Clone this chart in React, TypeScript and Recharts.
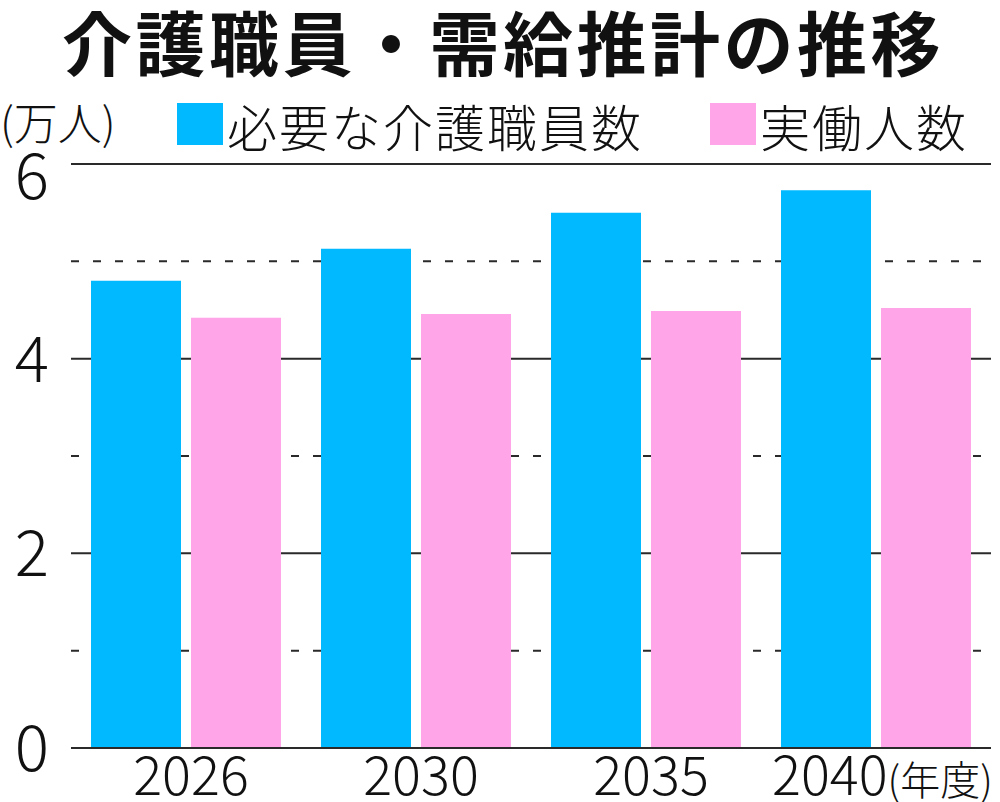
import React from "react";
import { BarChart, Bar, XAxis, YAxis, CartesianGrid } from "recharts";

const years = ["2026", "2030", "2035", "2040"];
const required = [4.8, 5.13, 5.5, 5.73];
const actual = [4.42, 4.46, 4.49, 4.52];
const Y_MAX = 6;
const yTicks = [0, 2, 4, 6];
const solidLines = [2, 4, 6];
const dashedLines = [1, 3, 5];

const data = years.map((year, i) => ({
  year,
  required: required[i],
  actual: actual[i],
}));

const FONT = '"Noto Sans CJK JP", "Noto Sans", sans-serif';
const BLUE = "#00B9FF";
const PINK = "#FFA5E8";
const LINE = "#2a2a2a";

// grid rows placed from the plot offset and the y domain
const gridAt = (values: number[]) => ({ offset }: any) =>
  values.map((v) => offset.top + offset.height * (1 - v / Y_MAX));

function YTick(props: any) {
  const { y, payload } = props;
  const v = payload.value;
  const shift = v === 6 ? 12 : 0;
  return (
    <text x={49} y={y + shift} dy={23} textAnchor="end" fontSize={64} fontWeight={300} fill="#111" fontFamily={FONT}>
      {v}
    </text>
  );
}

function XTick(props: any) {
  const { x, y, payload, index } = props;
  if (index === years.length - 1) {
    return (
      <text x={x - 104} y={y} dy={39} textAnchor="start" fontWeight={300} fill="#111" fontFamily={FONT}>
        <tspan fontSize={54}>{payload.value}</tspan>
        <tspan fontSize={40}>(年度)</tspan>
      </text>
    );
  }
  return (
    <text x={x + 5} y={y} dy={39} textAnchor="middle" fontSize={54} fontWeight={300} fill="#111" fontFamily={FONT}>
      {payload.value}
    </text>
  );
}

export default function App() {
  return (
    <div
      style={{
        position: "absolute",
        left: 0,
        top: 0,
        width: 1000,
        height: 802,
        background: "#fff",
        fontFamily: FONT,
        color: "#111",
      }}
    >
      <div
        style={{
          position: "absolute",
          left: 62,
          top: 6,
          fontSize: 70,
          lineHeight: 1,
          fontWeight: 700,
          letterSpacing: 3.5,
          whiteSpace: "nowrap",
        }}
      >
        介護職員・需給推計の推移
      </div>
      <div style={{ position: "absolute", left: 0, top: 99, fontSize: 44, lineHeight: 1, fontWeight: 300, whiteSpace: "nowrap" }}>
        (万人)
      </div>
      <div style={{ position: "absolute", left: 177, top: 103, width: 46, height: 42, background: BLUE }} />
      <div
        style={{ position: "absolute", left: 227, top: 100, fontSize: 50, lineHeight: 1, fontWeight: 300, letterSpacing: 2, whiteSpace: "nowrap" }}
      >
        必要な介護職員数
      </div>
      <div style={{ position: "absolute", left: 710, top: 103, width: 46, height: 42, background: PINK }} />
      <div
        style={{ position: "absolute", left: 760, top: 100, fontSize: 50, lineHeight: 1, fontWeight: 300, letterSpacing: 2, whiteSpace: "nowrap" }}
      >
        実働人数
      </div>
      <div style={{ position: "absolute", left: 0, top: 0 }}>
        <BarChart
          width={1000}
          height={802}
          data={data}
          margin={{ top: 164, right: 9, bottom: 0, left: 0 }}
          barCategoryGap={20}
          barGap={10}
        >
          <CartesianGrid
            vertical={false}
            stroke={LINE}
            strokeWidth={2}
            horizontalCoordinatesGenerator={gridAt(solidLines)}
          />
          <CartesianGrid
            vertical={false}
            stroke={LINE}
            strokeWidth={2}
            strokeDasharray="8 14"
            horizontalCoordinatesGenerator={gridAt(dashedLines)}
          />
          <XAxis
            dataKey="year"
            height={54}
            axisLine={{ stroke: LINE, strokeWidth: 2 }}
            tickLine={false}
            tick={<XTick />}
            interval={0}
          />
          <YAxis
            width={71}
            domain={[0, Y_MAX]}
            ticks={yTicks}
            axisLine={false}
            tickLine={false}
            tick={<YTick />}
            interval={0}
          />
          <Bar dataKey="required" fill={BLUE} barSize={90} isAnimationActive={false} />
          <Bar dataKey="actual" fill={PINK} barSize={90} isAnimationActive={false} />
        </BarChart>
      </div>
    </div>
  );
}
